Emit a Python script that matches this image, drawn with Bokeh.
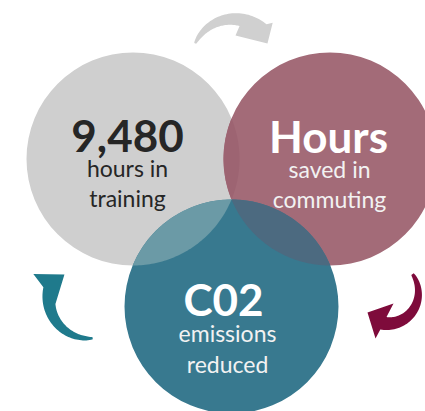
import numpy as np
from bokeh.plotting import figure
from bokeh.models import Range1d
from bokeh.core.properties import value
from bokeh.embed import file_html
from bokeh.resources import INLINE

# ---- content ----
headlines = ["9,480", "Hours", "C02"]
line1 = ["hours in", "saved in", "emissions"]
line2 = ["training", "commuting", "reduced"]

# ---- layout (reference pixel space, y down) ----
circle_x = [132.5, 329.5, 231.0]
circle_y = [158.5, 158.5, 306.0]
circle_r = [106.5, 106.5, 107.0]
circle_fill = ["#CFCFCF", "#A36B78", "#38798F"]
lens_pairs = [(0, 1), (0, 2), (1, 2)]
lens_fill = ["#9D6472", "#6B9AA6", "#4C6A80"]

head_x = [127, 328, 223]
head_y = [135, 135, 298.5]
l1_x = [127, 329, 227]
l1_y = [167, 168, 332]
l2_x = [127, 329, 227]
l2_y = [197, 198, 363]
head_color = ["#262626", "#FFFFFF", "#FFFFFF"]
sub_color = ["#262626", "#F2F2F2", "#F2F2F2"]

# arrow params: cx, cy, r0, r1, a_tail, a_bi, a_bo, w0, w1, inner_barb, outer_barb, tip, color
arrows = [
    (233, 60, 42, 42, 204, 280, 312.5, 2, 14, (274.6, 25), (316, 54.5), (333.4, 38), "#D0D0D0"),
    (386, 294, 33, 29, 322, 450, 460, 3, 13, (412, 11.4), (464, 45.4), (496.5, 26.2), "#7E0B3B"),
    (88, 298, 40, 40, 84, 171, 194, 2, 13, (171, 33.4), (204, 60.4), (225, 34), "#1F7A8C"),
]

W, H = 425, 411


def lens(i, j, n=60):
    x1, y1, r1 = circle_x[i], circle_y[i], circle_r[i]
    x2, y2, r2 = circle_x[j], circle_y[j], circle_r[j]
    d = np.hypot(x2 - x1, y2 - y1)
    phi12 = np.arctan2(y2 - y1, x2 - x1)
    phi21 = phi12 + np.pi
    t1 = np.arccos((d * d + r1 * r1 - r2 * r2) / (2 * d * r1))
    t2 = np.arccos((d * d + r2 * r2 - r1 * r1) / (2 * d * r2))
    a1 = np.linspace(phi12 - t1, phi12 + t1, n)
    a2 = np.linspace(phi21 - t2, phi21 + t2, n)
    xs = np.concatenate([x1 + r1 * np.cos(a1), x2 + r2 * np.cos(a2)])
    ys = np.concatenate([y1 + r1 * np.sin(a1), y2 + r2 * np.sin(a2)])
    return list(xs), list(ys)


def arrow_shape(cx, cy, r0, r1, a_tail, a_bi, a_bo, w0, w1, ib, ob, tip, n=50):
    t = np.linspace(0, 1, n)

    def edge(a_end, sign):
        a = np.radians(a_tail + (a_end - a_tail) * t)
        r = r0 + (r1 - r0) * t
        w = w0 + (w1 - w0) * t ** 0.7
        rr = r + sign * w / 2
        return cx + rr * np.cos(a), cy + rr * np.sin(a)

    def pt(ang, rad):
        return cx + rad * np.cos(np.radians(ang)), cy + rad * np.sin(np.radians(ang))

    ox, oy = edge(a_bo, 1)
    ix, iy = edge(a_bi, -1)
    pob, ptp, pib = pt(*ob), pt(*tip), pt(*ib)
    xs = list(ox) + [pob[0], ptp[0], pib[0]] + list(ix[::-1])
    ys = list(oy) + [pob[1], ptp[1], pib[1]] + list(iy[::-1])
    return xs, ys


p = figure(width=W, height=H, output_backend="svg", toolbar_location=None,
           x_range=Range1d(0, W), y_range=Range1d(H, 0), min_border=0)
p.axis.visible = False
p.grid.visible = False
p.outline_line_color = None
p.background_fill_color = "white"
p.border_fill_color = "white"

p.circle(x=circle_x, y=circle_y, radius=circle_r, fill_color=circle_fill, line_color=None)
for (i, j), c in zip(lens_pairs, lens_fill):
    xs, ys = lens(i, j)
    p.patch(xs, ys, fill_color=c, line_color=None)

for a in arrows:
    xs, ys = arrow_shape(*a[:12])
    p.patch(xs, ys, fill_color=a[12], line_color=None)

font = value("Lato")
p.text(x=head_x, y=head_y, text=headlines, text_font=font, text_font_style="bold",
       text_font_size="44px", text_align="center", text_baseline="alphabetic",
       text_color=head_color)
p.text(x=l1_x, y=l1_y, text=line1, text_font=font, text_font_size="23px",
       text_align="center", text_baseline="alphabetic", text_color=sub_color)
p.text(x=l2_x, y=l2_y, text=line2, text_font=font, text_font_size="23px",
       text_align="center", text_baseline="alphabetic", text_color=sub_color)

open("out.html", "w").write(file_html(p, INLINE))
